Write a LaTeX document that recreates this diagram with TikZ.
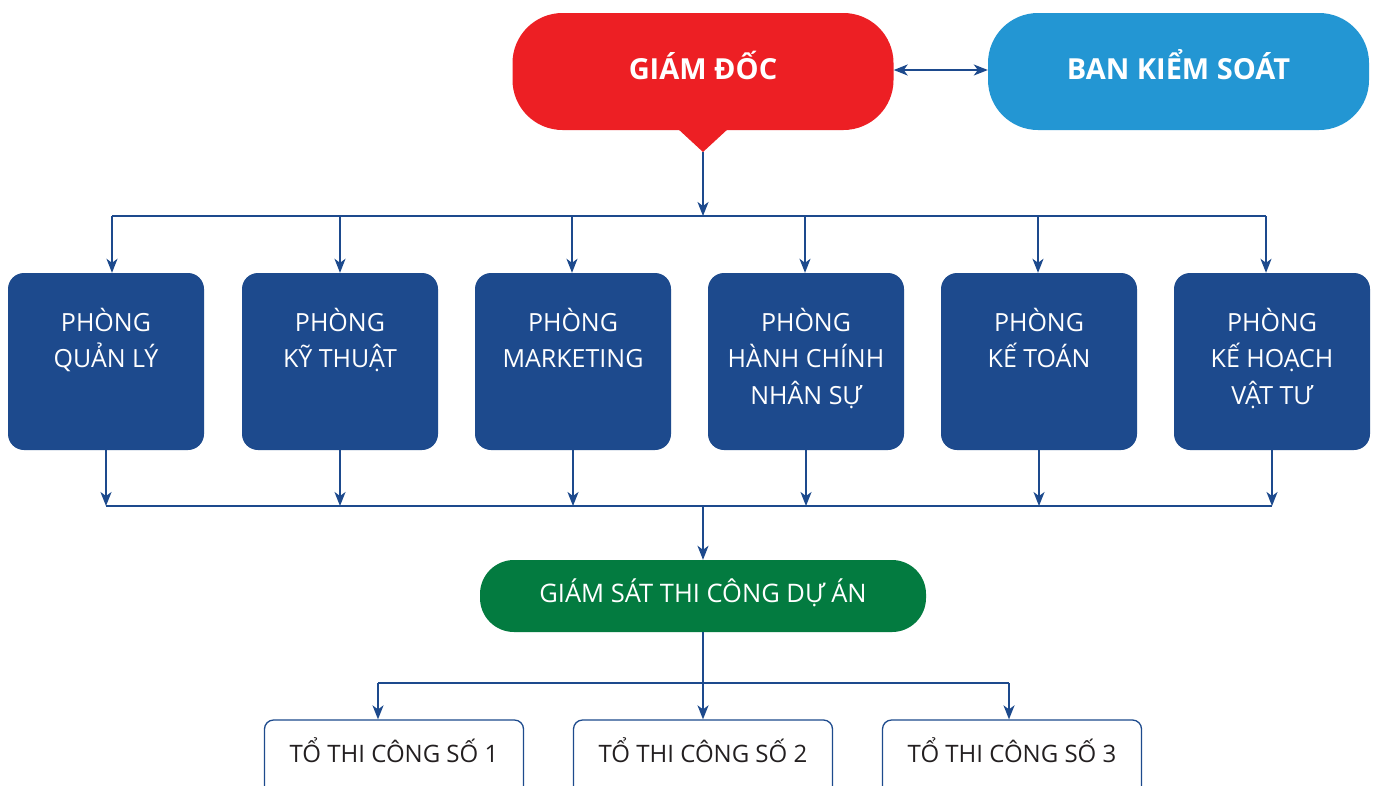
\documentclass[tikz,border=0pt]{standalone}
\usepackage{fontspec}
\setmainfont{Open Sans}
\usetikzlibrary{arrows.meta}
\definecolor{cred}{HTML}{ED1F24}
\definecolor{cblue}{HTML}{2396D3}
\definecolor{cnavy}{HTML}{1D4A8D}
\definecolor{cgreen}{HTML}{037B40}
\definecolor{ctext}{HTML}{231F20}
\begin{document}
\begin{tikzpicture}[x=1pt,y=-1pt,
  wire/.style={draw=cnavy, line width=1.6pt},
  conn/.style={wire, -{Stealth[length=14pt,width=11pt,inset=4pt]}},
  dconn/.style={wire, {Stealth[length=14pt,width=11pt,inset=4pt]}-{Stealth[length=14pt,width=11pt,inset=4pt]}},
  pill/.style={minimum width=381pt, minimum height=117pt, rounded corners=50pt, inner sep=0pt,
    text=white, text height=20pt, text depth=5pt, font=\fontsize{29}{32}\selectfont\bfseries},
  dept/.style={fill=cnavy, minimum width=196pt, minimum height=177pt, rounded corners=16pt, inner sep=0pt},
  depttext/.style={text=white, align=center, anchor=north, inner sep=0pt,
    font=\fontsize{25}{36.5}\selectfont},
  team/.style={draw=cnavy, line width=1.3pt, fill=white, minimum width=259pt, minimum height=80pt,
    rounded corners=9pt, inner sep=0pt},
  teamtext/.style={text=ctext, inner sep=0pt, text height=18pt, text depth=0pt, font=\fontsize{24}{30}\selectfont}
]
\clip (0,0) rectangle (1375,785);
\fill[white] (0,0) rectangle (1375,785);

% top level
\node[pill, fill=cred] (gd) at (703,71.5) {GIÁM ĐỐC};
\fill[cred] (677,128) -- (703,152) -- (729,128) -- cycle;
\coordinate (gdtip) at (703,152);
\node[pill, fill=cblue] (bks) at (1178.5,71.5) {BAN KIỂM SOÁT};
\draw[dconn] ([yshift=1.5pt]gd.east) -- ([yshift=1.5pt]bks.west);

% distribution bus
\coordinate (top) at (703,216);
\draw[conn] (gdtip) -- (top);
\coordinate (t1) at (112,216);
\coordinate (t2) at (340,216);
\coordinate (t3) at (572,216);
\coordinate (t4) at (805,216);
\coordinate (t5) at (1038,216);
\coordinate (t6) at (1266,216);
\draw[wire] (t1) -- (t6);

% departments
\node[dept] (p1) at (106,361.5) {};
\node[dept] (p2) at (340,361.5) {};
\node[dept] (p3) at (573,361.5) {};
\node[dept] (p4) at (806,361.5) {};
\node[dept] (p5) at (1039,361.5) {};
\node[dept] (p6) at (1272,361.5) {};

\node[depttext] (l1) at (106,305) {\rule{0pt}{26pt}PHÒNG\\QUẢN LÝ};
\node[depttext] (l2) at (340,305) {\rule{0pt}{26pt}PHÒNG\\KỸ THUẬT};
\node[depttext] (l3) at (573,305) {\rule{0pt}{26pt}PHÒNG\\MARKETING};
\node[depttext] (l4) at (806,305) {\rule{0pt}{26pt}PHÒNG\\HÀNH CHÍNH\\NHÂN SỰ};
\node[depttext] (l5) at (1039,305) {\rule{0pt}{26pt}PHÒNG\\KẾ TOÁN};
\node[depttext] (l6) at (1272,305) {\rule{0pt}{26pt}PHÒNG\\KẾ HOẠCH\\VẬT TƯ};

\draw[conn] (t1) -- (t1 |- p1.north);
\draw[conn] (t2) -- (t2 |- p2.north);
\draw[conn] (t3) -- (t3 |- p3.north);
\draw[conn] (t4) -- (t4 |- p4.north);
\draw[conn] (t5) -- (t5 |- p5.north);
\draw[conn] (t6) -- (t6 |- p6.north);

% collection bus
\coordinate (c1) at (106,506);
\coordinate (c6) at (1272,506);
\coordinate (mid) at (703,506);
\draw[wire] (c1) -- (c6);
\draw[conn] (p1.south) -- (p1.south |- c1);
\draw[conn] (p2.south) -- (p2.south |- c1);
\draw[conn] (p3.south) -- (p3.south |- c1);
\draw[conn] (p4.south) -- (p4.south |- c1);
\draw[conn] (p5.south) -- (p5.south |- c1);
\draw[conn] (p6.south) -- (p6.south |- c1);

% supervision
\node[fill=cgreen, minimum width=446pt, minimum height=72pt, rounded corners=34pt, inner sep=0pt,
  text=white, text height=18pt, text depth=6pt, font=\fontsize{25.5}{30}\selectfont] (gs) at (703,596) {GIÁM SÁT THI CÔNG DỰ ÁN};
\draw[conn] (mid) -- (mid |- gs.north);

% teams
\node[team] (b1) at (394,760) {};
\node[team] (b2) at (703,760) {};
\node[team] (b3) at (1012,760) {};
\node[teamtext] (bt1) at (394,753) {TỔ THI CÔNG SỐ 1};
\node[teamtext] (bt2) at (703,753) {TỔ THI CÔNG SỐ 2};
\node[teamtext] (bt3) at (1012,753) {TỔ THI CÔNG SỐ 3};

\coordinate (s1) at (378,683);
\coordinate (s3) at (1009,683);
\draw[wire] (s1) -- (s3);
\draw[conn] (gs.south) -- (gs.south |- b2.north);
\draw[conn] (s1) -- (s1 |- b1.north);
\draw[conn] (s3) -- (s3 |- b3.north);
\end{tikzpicture}
\end{document}
